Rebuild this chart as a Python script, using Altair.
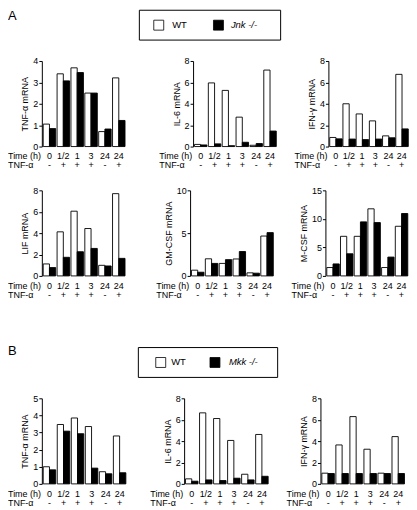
import altair as alt
import pandas as pd

FONT = "Liberation Sans"

GROUPS = ["g0", "g1", "g2", "g3", "g4", "g5"]
TIMES = ["0", "1/2", "1", "3", "24", "24"]
SIGNS = ["-", "+", "+", "+", "-", "+"]
GENOS = ["WT", "KO"]

# Section A (Jnk -/-)
A_TNF_WT = [1.05, 3.40, 3.68, 2.50, 0.70, 3.21]
A_TNF_KO = [0.84, 3.07, 3.46, 2.50, 0.82, 1.22]
A_IL6_WT = [0.20, 5.95, 5.25, 2.75, 0.12, 7.15]
A_IL6_KO = [0.15, 0.25, 0.08, 0.40, 0.28, 1.45]
A_IFN_WT = [0.85, 4.00, 3.05, 2.40, 1.00, 6.75]
A_IFN_KO = [0.72, 0.70, 0.65, 0.70, 0.82, 1.65]
A_LIF_WT = [1.12, 4.12, 6.05, 4.43, 0.99, 7.69]
A_LIF_KO = [0.78, 1.74, 2.26, 2.57, 0.93, 1.64]
A_GM_WT = [0.67, 2.00, 1.46, 1.98, 0.36, 4.66]
A_GM_KO = [0.43, 1.46, 1.90, 2.85, 0.32, 5.06]
A_M_WT = [1.47, 6.94, 6.94, 11.76, 1.47, 8.70]
A_M_KO = [2.10, 3.88, 9.47, 9.35, 3.30, 10.94]

# Section B (Mkk -/-)
B_TNF_WT = [1.00, 3.47, 3.85, 3.35, 0.71, 2.80]
B_TNF_KO = [0.82, 3.08, 2.93, 0.92, 0.59, 0.65]
B_IL6_WT = [0.47, 6.64, 6.11, 4.06, 0.90, 4.62]
B_IL6_KO = [0.25, 0.37, 0.31, 0.53, 0.37, 0.71]
B_IFN_WT = [1.00, 3.64, 6.29, 3.24, 1.00, 4.42]
B_IFN_KO = [0.97, 0.97, 0.97, 0.97, 0.97, 0.97]

FILL_SCALE = alt.Scale(domain=GENOS, range=["white", "black"])


def panel(wt, ko, ytitle, ymax, ticks, w, h=86):
    df = pd.DataFrame({"grp": GROUPS * 2, "geno": ["WT"] * 6 + ["KO"] * 6,
                       "value": wt + ko})
    lab = pd.DataFrame({"grp": GROUPS, "time": TIMES, "sign": SIGNS})
    xs = alt.X("grp:N", sort=GROUPS,
               scale=alt.Scale(paddingInner=0.1, paddingOuter=0.1), axis=None)
    bars = alt.Chart(df).mark_bar(stroke="black", strokeWidth=0.9).encode(
        x=xs,
        xOffset=alt.XOffset("geno:N", sort=GENOS,
                            scale=alt.Scale(paddingInner=0, paddingOuter=0)),
        y=alt.Y("value:Q", scale=alt.Scale(domain=[0, ymax], nice=False),
                axis=alt.Axis(values=ticks, title=ytitle, labelFlush=False)),
        fill=alt.Fill("geno:N", scale=FILL_SCALE, legend=None),
    )
    t1 = alt.Chart(lab).mark_text(font=FONT, fontSize=9, baseline="middle").encode(
        x=xs, y=alt.value(h + 10), text="time:N")
    t2 = alt.Chart(lab).mark_text(font=FONT, fontSize=9, baseline="middle").encode(
        x=xs, y=alt.value(h + 19), text="sign:N")
    l1 = alt.Chart(alt.Data(values=[{}])).mark_text(
        text="Time (h)", font=FONT, fontSize=9, align="left", baseline="middle"
    ).encode(x=alt.value(-34), y=alt.value(h + 10))
    l2 = alt.Chart(alt.Data(values=[{}])).mark_text(
        text="TNF-α", font=FONT, fontSize=9, align="left", baseline="middle"
    ).encode(x=alt.value(-34), y=alt.value(h + 19))
    return alt.layer(bars, t1, t2, l1, l2).properties(width=w, height=h)


def header(letter, ko_label, h, top, letter_top, xs):
    # xs: box left, box right, wt square, wt text, ko square, ko text
    bl, br, wsq, wtx, ksq, ktx = xs
    mid = top + 15
    box = alt.Chart(alt.Data(values=[{}])).mark_rect(
        fill="white", stroke="black", strokeWidth=1
    ).encode(x=alt.value(bl), x2=alt.value(br), y=alt.value(top),
             y2=alt.value(top + 30))
    leg = pd.DataFrame({"geno": GENOS})
    sq = alt.Chart(leg).mark_square(size=100, stroke="black", strokeWidth=0.8,
                                    opacity=1).encode(
        x=alt.X("geno:N", sort=GENOS,
                scale=alt.Scale(range=[wsq, ksq], padding=0), axis=None),
        y=alt.value(mid),
        fill=alt.Fill("geno:N", scale=FILL_SCALE, legend=None),
    )
    wt_t = alt.Chart(alt.Data(values=[{}])).mark_text(
        text="WT", font=FONT, fontSize=9.5, align="left", baseline="middle"
    ).encode(x=alt.value(wtx), y=alt.value(mid))
    ko_t = alt.Chart(alt.Data(values=[{}])).mark_text(
        text=ko_label, font=FONT, fontSize=9.5, fontStyle="italic",
        align="left", baseline="middle"
    ).encode(x=alt.value(ktx), y=alt.value(mid))
    let = alt.Chart(alt.Data(values=[{}])).mark_text(
        text=letter, font=FONT, fontSize=13, align="left", baseline="top"
    ).encode(x=alt.value(-34), y=alt.value(letter_top))
    return alt.layer(box, sq, wt_t, ko_t, let).properties(width=300, height=h)


def row(panels, s1, s2):
    p1, p2, p3 = panels
    return alt.hconcat(p1, alt.hconcat(p2, p3, spacing=s2), spacing=s1)


rowA1 = row([
    panel(A_TNF_WT, A_TNF_KO, "TNF-α mRNA", 4, [0, 1, 2, 3, 4], 85),
    panel(A_IL6_WT, A_IL6_KO, "IL-6  mRNA", 8, [0, 2, 4, 6, 8], 85),
    panel(A_IFN_WT, A_IFN_KO, "IFN-γ mRNA", 8, [0, 2, 4, 6, 8], 81),
], 33, 17)

rowA2 = row([
    panel(A_LIF_WT, A_LIF_KO, "LIF mRNA", 8, [0, 2, 4, 6, 8], 85),
    panel(A_GM_WT, A_GM_KO, "GM-CSF mRNA", 10, [0, 5, 10], 85),
    panel(A_M_WT, A_M_KO, "M-CSF mRNA", 15, [0, 5, 10, 15], 84),
], 30, 17)

rowB = row([
    panel(B_TNF_WT, B_TNF_KO, "TNF-α mRNA", 5, [0, 1, 2, 3, 4, 5], 86),
    panel(B_IL6_WT, B_IL6_KO, "IL-6  mRNA", 8, [0, 2, 4, 6, 8], 86),
    panel(B_IFN_WT, B_IFN_KO, "IFN-γ mRNA", 8, [0, 2, 4, 6, 8], 86),
], 23, 17)

headA = header("A", "Jnk -/-", 30, 0, 0, (98, 240, 117.5, 131, 177.5, 190))
headB = header("B", "Mkk -/-", 62, 32, 29, (97, 237, 119.5, 130, 174, 188))

chart = alt.vconcat(headA, rowA1, rowA2, headB, rowB, spacing=16).properties(
    padding=0
).configure_view(strokeWidth=0).configure_axis(
    labelFont=FONT, titleFont=FONT, labelFontSize=9, titleFontSize=9,
    titleFontWeight="normal", labelColor="black", titleColor="black",
    domainColor="black", tickColor="black", tickSize=3, grid=False,
    labelPadding=1, titlePadding=3,
)

chart.save("out.html", embed_options={"renderer": "svg", "actions": False})
